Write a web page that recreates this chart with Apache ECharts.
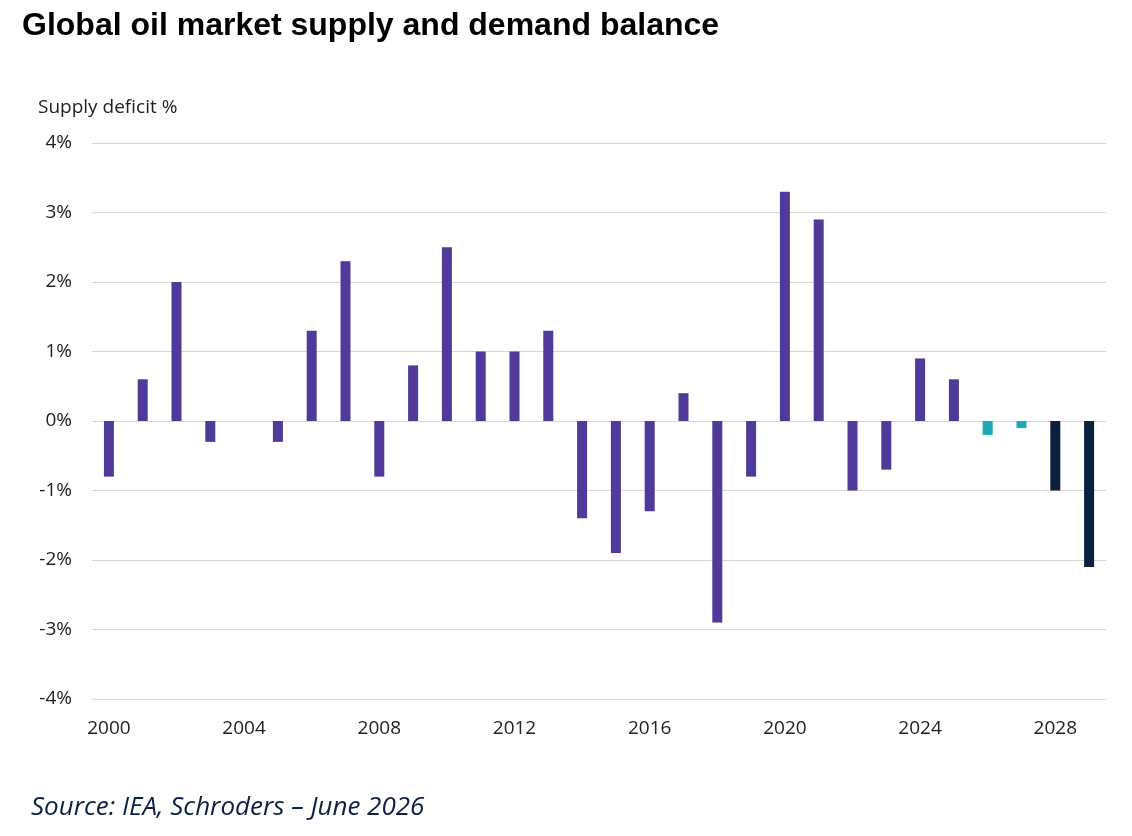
<!DOCTYPE html>
<html>
<head>
<meta charset="utf-8">
<script src="https://cdn.jsdelivr.net/npm/echarts@6/dist/echarts.min.js"></script>
<style>
html,body{margin:0;padding:0;background:#fff;}
#c{width:1132px;height:836px;}
</style>
</head>
<body>
<div id="c"></div>
<script>
const years = ['2000','2001','2002','2003','2004','2005','2006','2007','2008','2009','2010','2011','2012','2013','2014','2015','2016','2017','2018','2019','2020','2021','2022','2023','2024','2025','2026','2027','2028','2029'];
const deficit = [-0.8,0.6,2.0,-0.3,0,-0.3,1.3,2.3,-0.8,0.8,2.5,1.0,1.0,1.3,-1.4,-1.9,-1.3,0.4,-2.9,-0.8,3.3,2.9,-1.0,-0.7,0.9,0.6,-0.2,-0.1,-1.0,-2.1];
const group = ['a','a','a','a','a','a','a','a','a','a','a','a','a','a','a','a','a','a','a','a','a','a','a','a','a','a','b','b','c','c'];
const groupColors = {a:'#4f3a99', b:'#1ba8b9', c:'#0b1f3f'};
const yTicks = [-4,-3,-2,-1,0,1,2,3,4];

const chart = echarts.init(document.getElementById('c'), null, {renderer:'canvas'});
chart.setOption({
  backgroundColor:'#fff',
  animation:false,
  title:[
    {text:'Global oil market supply and demand balance', left:17, top:5,
     textStyle:{fontFamily:'Liberation Sans', fontWeight:'bold', fontSize:32, color:'#000'}},
    {text:'Source: IEA, Schroders – June 2026', left:26, top:790,
     textStyle:{fontFamily:'Open Sans', fontStyle:'italic', fontWeight:'normal', fontSize:26, color:'#0c2145'}}
  ],
  grid:{left:92, right:26, top:143, bottom:137},
  xAxis:{
    type:'category', data:years, boundaryGap:true,
    axisLine:{show:false}, axisTick:{show:false},
    axisLabel:{interval:3, fontFamily:'Open Sans', fontSize:19, color:'#222', margin:20}
  },
  yAxis:{
    type:'value', min:yTicks[0], max:yTicks[yTicks.length-1], interval:1,
    name:'Supply deficit %', nameLocation:'end', nameGap:26,
    nameTextStyle:{fontFamily:'Open Sans', fontSize:19, color:'#222', align:'left', padding:[0,0,0,-54]},
    axisLine:{show:false}, axisTick:{show:false},
    axisLabel:{formatter:v=>v+'%', fontFamily:'Open Sans', fontSize:19, color:'#222', margin:20},
    splitLine:{lineStyle:{color:'#d6d6d6', width:1}}
  },
  series:[{
    type:'bar', barWidth:10,
    data:deficit.map((v,i)=>({value:v, itemStyle:{color:groupColors[group[i]]}}))
  }]
});
</script>
</body>
</html>
